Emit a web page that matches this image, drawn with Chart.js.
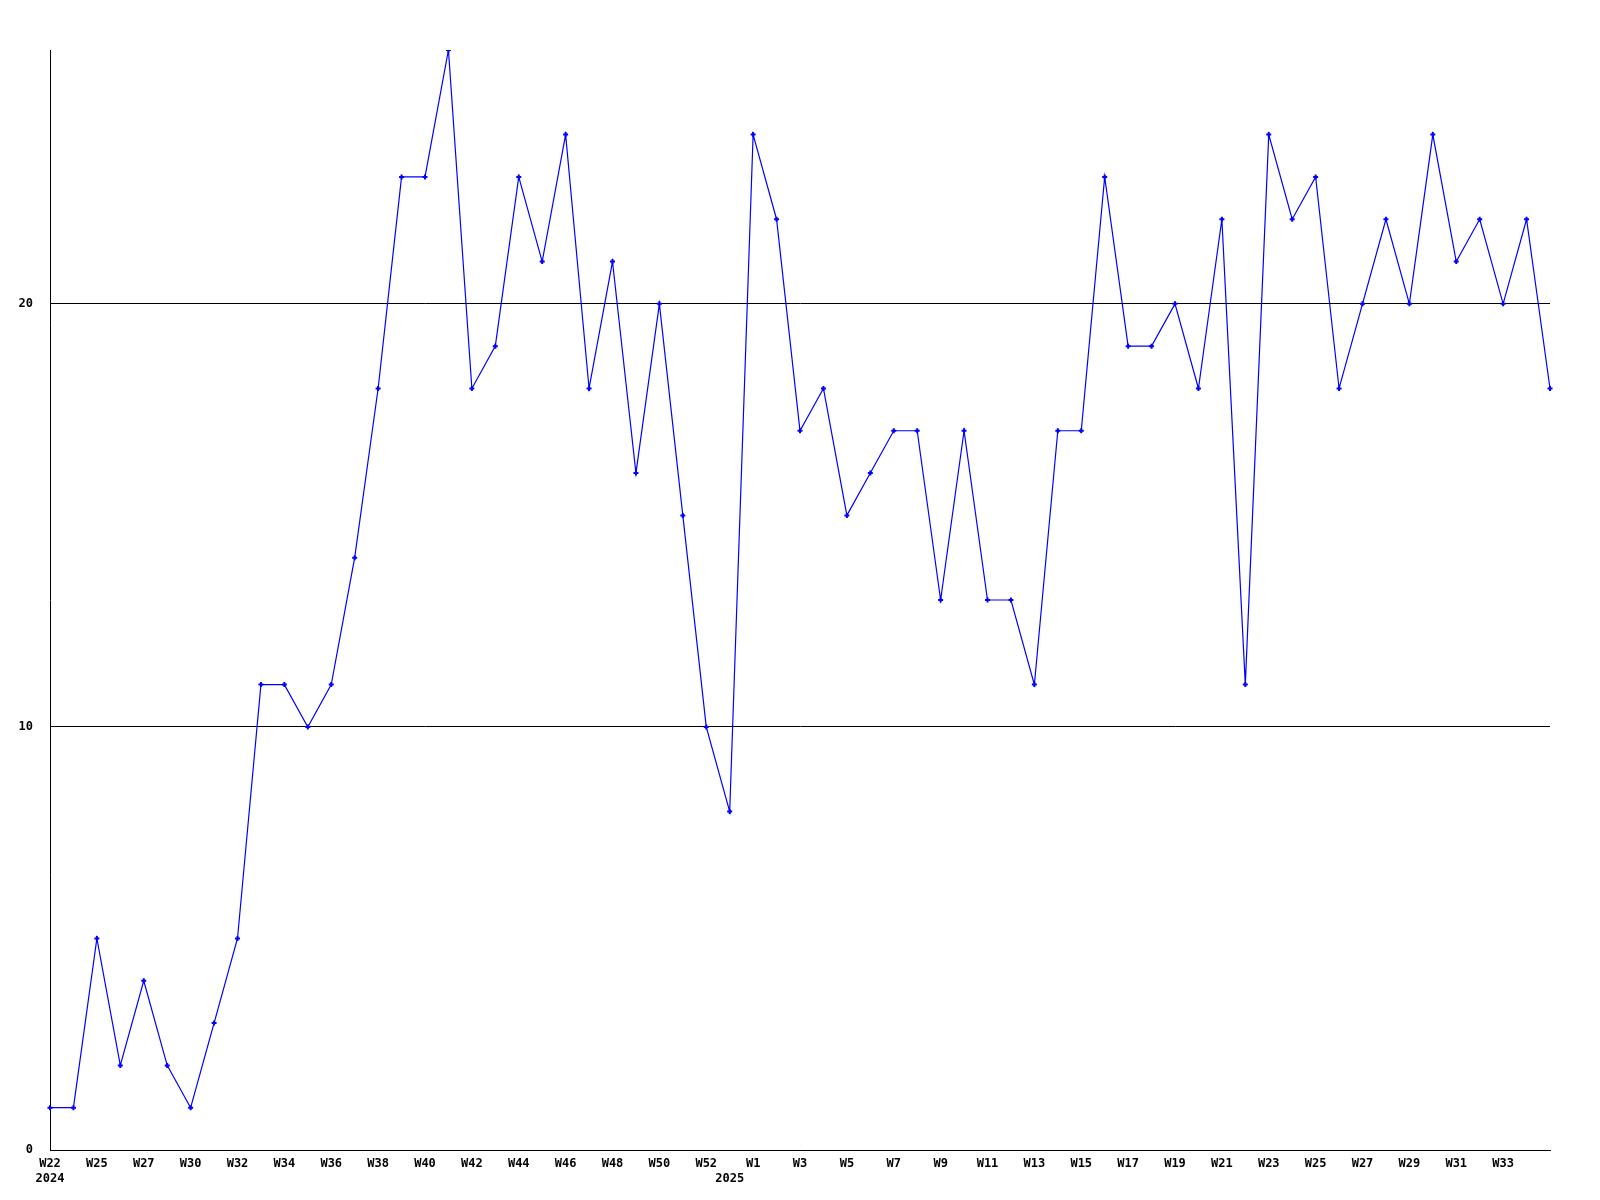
<!DOCTYPE html>
<html>
<head>
<meta charset="utf-8">
<script src="https://cdn.jsdelivr.net/npm/chart.js@4.4.1/dist/chart.umd.min.js"></script>
<style>
html,body{margin:0;padding:0;background:#fff;}
#wrap{position:relative;width:1600px;height:1200px;}
</style>
</head>
<body>
<div id="wrap"><canvas id="c" width="1600" height="1200"></canvas></div>
<script>
// Week categories (one per data point)
const categories = [
  'W22','W23','W25','W26','W27','W28','W30','W31','W32','W33',
  'W34','W35','W36','W37','W38','W39','W40','W41','W42','W43',
  'W44','W45','W46','W47','W48','W49','W50','W51','W52','2025',
  'W1','W2','W3','W4','W5','W6','W7','W8','W9','W10',
  'W11','W12','W13','W14','W15','W16','W17','W18','W19','W20',
  'W21','W22','W23','W24','W25','W26','W27','W28','W29','W30',
  'W31','W32','W33','W34','W35'
];
// Values
const values = [
  1, 1, 5, 2, 4, 2, 1, 3, 5, 11,
  11, 10, 11, 14, 18, 23, 23, 26, 18, 19,
  23, 21, 24, 18, 21, 16, 20, 15, 10, 8,
  24, 22, 17, 18, 15, 16, 17, 17, 13, 17,
  13, 13, 11, 17, 17, 23, 19, 19, 20, 18,
  22, 11, 24, 22, 23, 18, 20, 22, 20, 24,
  21, 22, 20, 22, 18
];
// Tick labels shown on the x axis, keyed by point index
const tickIndex = [0,2,4,6,8,10,12,14,16,18,20,22,24,26,28,29,30,32,34,36,38,40,42,44,46,48,50,52,54,56,58,60,62];
const tickText = [
  ['W22','2024'],'W25','W27','W30','W32','W34','W36','W38','W40','W42','W44',
  'W46','W48','W50','W52',['','2025'],'W1','W3','W5','W7','W9','W11','W13','W15',
  'W17','W19','W21','W23','W25','W27','W29','W31','W33'
];
const yTicks = [0, 10, 20];

const FONT = {family: "'DejaVu Sans Mono', 'Liberation Mono', monospace", size: 12, weight: 'bold', lineHeight: 1.25};

new Chart(document.getElementById('c'), {
  type: 'line',
  data: {
    labels: categories,
    datasets: [{
      data: values,
      borderColor: '#0000ff',
      backgroundColor: '#0000ff',
      borderWidth: 1.2,
      pointStyle: 'cross',
      pointRadius: 2.5,
      pointBorderWidth: 2,
      pointBorderColor: '#0000ff',
      pointHoverRadius: 2.5,
      tension: 0,
      fill: false
    }]
  },
  options: {
    responsive: false,
    animation: false,
    devicePixelRatio: 1,
    layout: {padding: {top: 50, right: 50, left: 0, bottom: 0}},
    plugins: {legend: {display: false}, tooltip: {enabled: false}},
    scales: {
      x: {
        type: 'category',
        offset: false,
        afterFit: s => { s.height = 50; },
        grid: {display: false, drawTicks: false},
        border: {display: true, color: '#000', width: 1},
        afterBuildTicks: s => { s.ticks = tickIndex.map(i => ({value: i})); },
        ticks: {
          autoSkip: false,
          maxRotation: 0,
          minRotation: 0,
          padding: 6,
          color: '#000',
          font: FONT,
          callback: (v) => { const k = tickIndex.indexOf(v); return k >= 0 ? tickText[k] : ''; }
        }
      },
      y: {
        min: 0,
        max: 26,
        afterFit: s => { s.width = 50; },
        afterBuildTicks: s => { s.ticks = yTicks.map(v => ({value: v})); },
        grid: {
          drawTicks: false,
          color: '#000',
          lineWidth: 1
        },
        border: {display: true, color: '#000', width: 1},
        ticks: {
          padding: 17,
          color: '#000',
          font: FONT
        }
      }
    }
  }
});
</script>
</body>
</html>
